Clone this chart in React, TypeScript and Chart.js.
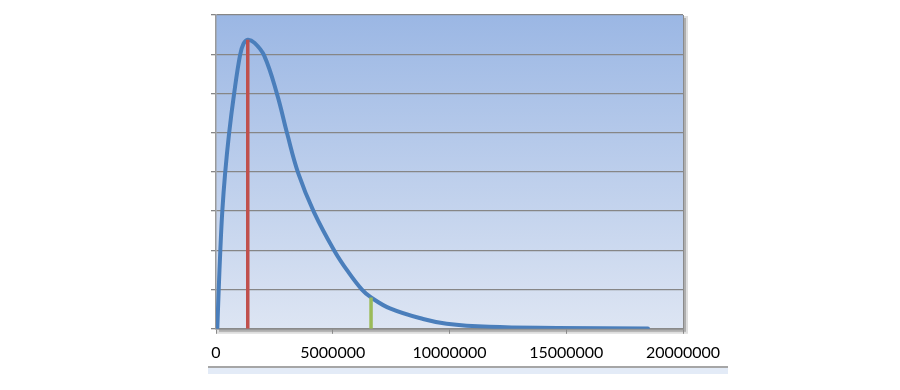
import React, { useEffect, useRef } from "react";
import { Chart, registerables } from "chart.js";

Chart.register(...registerables);

// Curve (x in units, y in grid units 0..8)
const curveX = [56000, 116000, 185000, 270000, 390000, 560000, 770000, 1030000, 1180000, 1360000, 1650000, 2060000, 2620000, 3050000, 3520000, 4200000, 5080000, 5700000, 6250000, 6640000, 7450000, 8870000, 9880000, 11700000, 14600000, 18500000];
const curveY = [0, 1.0, 2.0, 3.0, 3.96, 4.98, 5.97, 6.98, 7.27, 7.37, 7.29, 6.97, 5.97, 4.97, 3.97, 2.97, 1.98, 1.42, 1.0, 0.8, 0.52, 0.25, 0.13, 0.05, 0.02, 0.005];

const modeX = 1360000;
const modeY = 7.37;
const markX = 6640000;
const markY = 0.8;

const xTicks = [0, 5000000, 10000000, 15000000, 20000000];
const yMax = 8;

const bgPlugin = {
  id: "plotBg",
  beforeDraw(chart: any) {
    const { ctx, chartArea } = chart;
    const { left, top, right, bottom } = chartArea;
    ctx.save();
    ctx.fillStyle = "rgba(120,120,120,0.55)";
    ctx.fillRect(left + 3, top + 3, right - left, bottom - top);
    ctx.fillStyle = "rgba(160,160,160,0.35)";
    ctx.fillRect(left + 1, top + 1, right - left + 4, bottom - top + 4);
    const g = ctx.createLinearGradient(0, top, 0, bottom);
    g.addColorStop(0, "#9bb7e4");
    g.addColorStop(1, "#dde5f3");
    ctx.fillStyle = g;
    ctx.fillRect(left, top, right - left, bottom - top);
    ctx.strokeStyle = "#8a8a8a";
    ctx.lineWidth = 1;
    ctx.beginPath();
    ctx.moveTo(right + 0.5, top);
    ctx.lineTo(right + 0.5, bottom);
    ctx.stroke();
    ctx.restore();
  },
};

export default function App() {
  const ref = useRef<HTMLCanvasElement | null>(null);
  useEffect(() => {
    if (!ref.current) return;
    const curve = curveX.map((x, i) => ({ x, y: curveY[i] }));
    const chart = new Chart(ref.current, {
      type: "scatter",
      data: {
        datasets: [
          {
            data: [{ x: modeX, y: 0 }, { x: modeX, y: modeY }],
            showLine: true,
            borderColor: "#c0504d",
            borderWidth: 3.5,
            pointRadius: 0,
          },
          {
            data: [{ x: markX, y: 0 }, { x: markX, y: markY }],
            showLine: true,
            borderColor: "#9bbb59",
            borderWidth: 3.5,
            pointRadius: 0,
          },
          {
            data: curve,
            showLine: true,
            borderColor: "#4a7ebb",
            borderWidth: 4,
            pointRadius: 0,
            tension: 0.4,
            borderCapStyle: "round",
            borderJoinStyle: "round",
          } as any,
        ],
      },
      options: {
        animation: false,
        responsive: false,
        maintainAspectRatio: false,
        layout: { padding: { left: 211, right: 217, top: 15, bottom: 19 } },
        plugins: { legend: { display: false }, tooltip: { enabled: false } },
        scales: {
          x: {
            type: "linear",
            min: 0,
            max: 20000000,
            afterBuildTicks: (s: any) => {
              s.ticks = xTicks.map((v) => ({ value: v }));
            },
            ticks: {
              color: "#000",
              padding: 9,
              maxRotation: 0,
              autoSkip: false,
              font: { family: "Lato, 'Open Sans', sans-serif", size: 16 },
              callback: (v: any) => String(v),
            },
            grid: { drawOnChartArea: false, drawTicks: true, tickLength: 5, color: "#8a8a8a", lineWidth: 1 },
            border: { color: "#8a8a8a", width: 1.5 },
          },
          y: {
            type: "linear",
            min: 0,
            max: yMax,
            ticks: { display: false, stepSize: 1 },
            grid: { color: "#868686", lineWidth: 1.3, tickLength: 5, drawTicks: true },
            border: { color: "#9a9a9a", width: 1.5 },
          },
        },
      },
      plugins: [bgPlugin],
    });
    return () => chart.destroy();
  }, []);
  return (
    <div style={{ position: "absolute", left: 0, top: 0, width: 900, height: 390, background: "#fff" }}>
      <canvas ref={ref} width={900} height={390} style={{ position: "absolute", left: 0, top: 0 }} />
      <div style={{ position: "absolute", left: 208, top: 366, width: 520, height: 1.5, background: "#a6a6a6" }} />
      <div style={{ position: "absolute", left: 208, top: 367.5, width: 520, height: 6, background: "#e3ebf7" }} />
    </div>
  );
}
